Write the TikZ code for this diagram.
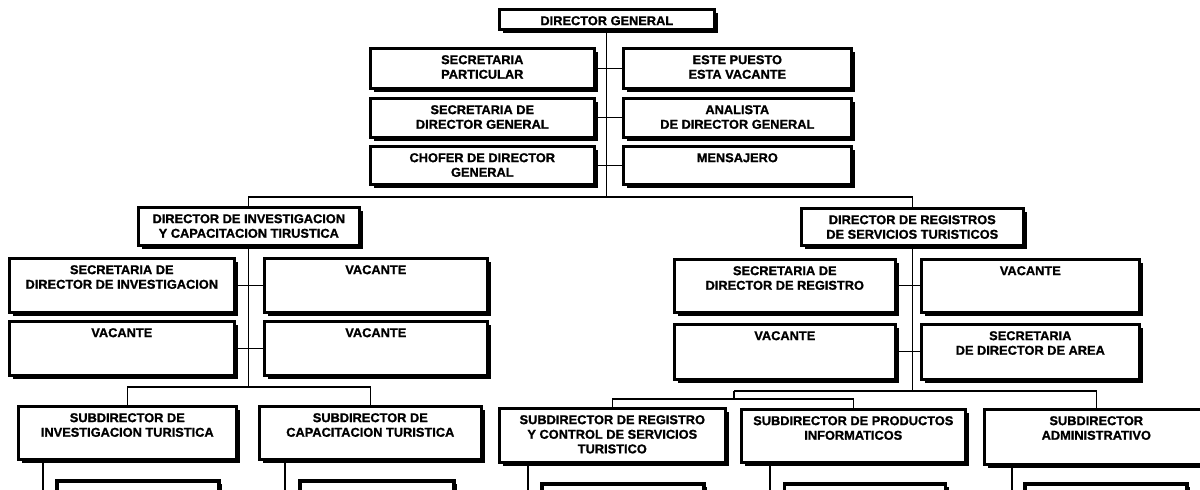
\documentclass[tikz,border=0pt]{standalone}
\usepackage{fontspec}
\setmainfont{Liberation Sans}
\newfontfamily\cardfont{Liberation Sans Bold}[FakeBold=1.2]
\usetikzlibrary{shadows}
\tikzset{
  cardbox/.style={draw=black, fill=white, line width=1.7pt, rectangle, inner sep=0pt,
    drop shadow={shadow xshift=1.7pt, shadow yshift=-1.7pt, opacity=1, fill=black}},
  cardlabel/.style={inner sep=0pt, align=center, anchor=north,
    font=\cardfont\fontsize{6.4}{7.3}\selectfont},
  link/.style={draw=black, line width=0.6pt},
}
% \card{name}{left}{top}{right}{bottom}{text}: framed post with its title near the top
\newcommand\card[6]{%
  \node[cardbox, minimum width={(#4-#2-5)*0.5pt}, minimum height={(#5-#3-5)*0.5pt}]
    (#1) at ({(#2+#4)/2-1.2},{(#3+#5)/2-1.2}) {};
  \node[cardlabel] (#1-t) at ([yshift=-4.1pt]#1.north) {#6};}
\begin{document}
\begin{tikzpicture}[x=0.5pt, y=-0.5pt]
\useasboundingbox (0,0) rectangle (1200,489);
\clip (0,0) rectangle (1200,489);

% --- general direction ---
\card{dg}{498}{8}{718}{33}{DIRECTOR GENERAL}
\card{sp}{369}{47}{598}{92}{SECRETARIA\\PARTICULAR}
\card{ep}{622}{47}{855}{92}{ESTE PUESTO\\ESTA VACANTE}
\card{sdg}{369}{97}{598}{141}{SECRETARIA DE\\DIRECTOR GENERAL}
\card{an}{622}{97}{855}{141}{ANALISTA\\DE DIRECTOR GENERAL}
\card{ch}{369}{145}{598}{188}{CHOFER DE DIRECTOR\\GENERAL}
\card{me}{622}{145}{855}{188}{MENSAJERO}

% --- research and training ---
\card{did}{137}{206}{363}{249}{DIRECTOR DE INVESTIGACION\\Y CAPACITACION TIRUSTICA}
\card{sdi}{8}{257}{238}{316}{SECRETARIA DE\\DIRECTOR DE INVESTIGACION}
\card{v1}{263}{257}{491}{316}{VACANTE}
\card{v2}{8}{320}{238}{379}{VACANTE}
\card{v3}{263}{320}{491}{379}{VACANTE}
\card{sit}{17}{405}{240}{463}{SUBDIRECTOR DE\\INVESTIGACION TURISTICA}
\card{sct}{258}{405}{485}{463}{SUBDIRECTOR DE\\CAPACITACION TURISTICA}

% --- registers of tourist services ---
\card{drs}{800}{207}{1027}{249}{DIRECTOR DE REGISTROS\\DE SERVICIOS TURISTICOS}
\card{sdr}{673}{258}{899}{316}{SECRETARIA DE\\DIRECTOR DE REGISTRO}
\card{v4}{920}{258}{1143}{316}{VACANTE}
\card{v5}{673}{323}{899}{383}{VACANTE}
\card{sda}{920}{323}{1143}{383}{SECRETARIA\\DE DIRECTOR DE AREA}
\card{srt}{498}{407}{729}{466}{SUBDIRECTOR DE REGISTRO\\Y CONTROL DE SERVICIOS\\TURISTICO}
\card{spi}{740}{408}{969}{466}{SUBDIRECTOR DE PRODUCTOS\\INFORMATICOS}
\card{sad}{983}{408}{1212}{468}{SUBDIRECTOR\\ADMINISTRATIVO}

% --- next level, continuing below ---
\node[cardbox, minimum width={162*0.5pt}, minimum height={40*0.5pt}] (sit-c) at (138,501) {};
\node[cardbox, minimum width={154*0.5pt}, minimum height={40*0.5pt}] (sct-c) at (377,501) {};
\node[cardbox, minimum width={162*0.5pt}, minimum height={40*0.5pt}] (srt-c) at (623,504) {};
\node[cardbox, minimum width={161*0.5pt}, minimum height={40*0.5pt}] (spi-c) at (865,504) {};
\node[cardbox, minimum width={162*0.5pt}, minimum height={40*0.5pt}] (sad-c) at (1106,504) {};

% --- connectors ---
\coordinate (topbar) at (0,197);
\coordinate (lbar) at (0,387);
\coordinate (rbar) at (734,391);
\coordinate (rbar2) at (0,399);

\draw[link] (dg.south) -- (dg.south |- topbar);
\draw[link] (sp.east) -- (ep.west);
\draw[link] (sdg.east) -- (an.west);
\draw[link] (ch.east) -- (me.west);
\draw[link] (did.north) -- (did.north |- topbar) -- (drs.north |- topbar) -- (drs.north);

\draw[link] (did.south) -- (did.south |- lbar);
\draw[link] (sdi.east) -- (v1.west);
\draw[link] (v2.east) -- (v3.west);
\draw[link] (sit.north) -- (sit.north |- lbar) -- (sct.north |- lbar) -- (sct.north);

\draw[link] (drs.south) -- (drs.south |- rbar);
\draw[link] (sdr.east) -- (v4.west);
\draw[link] (v5.east) -- (sda.west);
\draw[link] (rbar) -- (sad.north |- rbar) -- (sad.north);
\draw[link] (rbar) -- (rbar |- rbar2);
\draw[link] (srt.north) -- (srt.north |- rbar2) -- (spi.north |- rbar2) -- (spi.north);

\coordinate (sit-e) at (43,495);
\coordinate (sct-e) at (285,495);
\coordinate (srt-e) at (528,495);
\coordinate (spi-e) at (770,495);
\coordinate (sad-e) at (1012,495);
\draw[link] (sit.south -| sit-e) -- (sit-e);
\draw[link] (sct.south -| sct-e) -- (sct-e);
\draw[link] (srt.south -| srt-e) -- (srt-e);
\draw[link] (spi.south -| spi-e) -- (spi-e);
\draw[link] (sad.south -| sad-e) -- (sad-e);
\end{tikzpicture}
\end{document}
